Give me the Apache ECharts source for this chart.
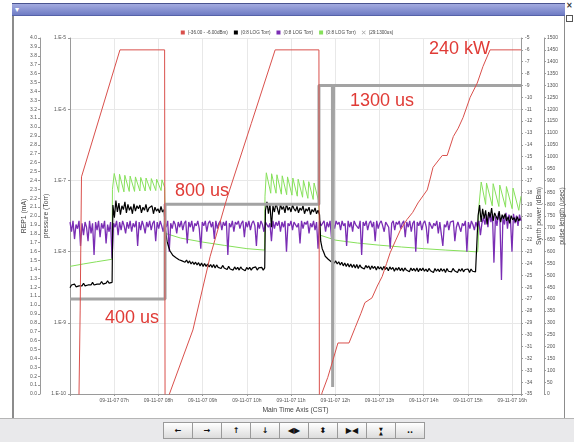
<!DOCTYPE html>
<html>
<head>
<meta charset="utf-8">
<script src="https://cdn.jsdelivr.net/npm/echarts@6/dist/echarts.min.js"></script>
<style>
  html, body { margin: 0; padding: 0; background: #fff; width: 574px; height: 442px; overflow: hidden; }
  #win { position: absolute; left: 12px; top: 4px; width: 553px; height: 414px; box-sizing: border-box;
         border-left: 2px solid #8c8c8c; border-right: 1px solid #8c8c8c; }
  #tbar { position: absolute; left: 12px; top: 3px; width: 553px; height: 11px;
          background: linear-gradient(#a3abe0, #6f7cc4); border-top: 1px solid #4a5490; border-bottom: 1px solid #5562a8;
          color: #fff; font: bold 8px "DejaVu Sans"; line-height: 11px; }
  #tbar span { margin-left: 3px; }
  #xbtn { position: absolute; left: 566px; top: 1px; font: bold 8px "DejaVu Sans"; color: #333; }
  #rbtn { position: absolute; left: 566px; top: 15px; width: 5px; height: 5px; border: 1px solid #555; background: #fff; }
  #chart { position: absolute; left: 0; top: 0; width: 574px; height: 442px; }
  #tools { position: absolute; left: 0; top: 418px; width: 574px; height: 24px; background: #e9e9eb; border-top: 1px solid #b5b5b5; }
  .btns { position: absolute; left: 163px; top: 3px; display: flex; border: 1px solid #9a9a9a; border-right: none; }
  .btns div { width: 28px; height: 15px; border-right: 1px solid #9a9a9a; background: linear-gradient(#ffffff, #dcdcdc);
              font: bold 8px "DejaVu Sans"; color: #111; text-align: center; line-height: 15px; }
  .btns .hg { display: inline-block; font-size: 5px; line-height: 4px; vertical-align: middle; }
</style>
</head>
<body>
<div id="win"></div>
<div id="tbar"><span>&#9662;</span></div>
<div id="xbtn">&#215;</div>
<div id="rbtn"></div>
<div id="chart"></div>
<div id="tools"><div class="btns">
  <div>&#8592;</div><div>&#8594;</div><div>&#8593;</div><div>&#8595;</div><div>&#9664;&#9654;</div>
  <div>&#11021;</div><div>&#9654;&#9664;</div><div><span class="hg">&#9660;<br>&#9650;</span></div><div>..</div>
</div></div>
<script>
// ---- time axis: hours of 09-11-07 ----
const dayLabel = '09-11-07';
const hourLabels = ['07h', '08h', '09h', '10h', '11h', '12h', '13h', '14h', '15h', '16h'];
const sampleStep = 0.034;           // hours between logged samples

// ---- synth power (dBm) ----
const redHours = [6.20, 6.23, 6.26, 7.13, 8.14, 8.15,
  8.17, 8.78, 9.17, 9.55, 10.10, 10.64, 11.63, 11.64,
  11.70, 11.83, 11.95, 12.06, 12.31, 12.45, 12.58, 12.67, 12.83, 12.95, 13.06, 13.16, 13.24, 13.36,
  13.47, 13.62, 13.75, 13.87, 14.08, 14.15, 14.21, 14.42, 14.53, 14.67, 14.78, 14.89, 15.05, 15.21,
  15.34, 15.50, 16.20];
const redDbm = [-36, -28, -16.7, -6, -6, -36,
  -36, -29.6, -23.4, -18.5, -12.2, -6, -6, -36,
  -34.9, -33.6, -32.1, -30.7, -30.7, -29.4, -28.2, -27.3, -26.9, -25.9, -25.1, -24.0, -23.1, -22.1,
  -21.2, -20.3, -19.7, -18.9, -17.8, -16.8, -15.9, -14.9, -14.9, -13.3, -12.6, -11.7, -10.0, -8.8,
  -7.4, -6.0, -6.0];

// ---- pulse length (us) ----
const grayHours = [6.0, 8.15, 8.15, 11.63, 11.63, 11.935, 11.94, 11.955, 11.96, 16.2];
const grayUs = [400, 400, 800, 800, 1300, 1300, 29, 29, 1300, 1300];

// ---- gauge readings, in units of 1e-9 Torr ----
const purpleStart = 6.0;
const purpleNano = [
  26,19,27,15,24,21,27,12,25,17,26,22,14,27,18,25,9,26,20,27,
  16,25,21,27,13,24,19,26,8,25,22,27,17,26,20,27,23,18,26,21,
  27,19,25,22,27,12,26,20,27,23,18,26,22,27,20,25,27,14,26,21,
  27,23,19,26,22,27,10,25,21,27,24,18,26,22,27,20,25,27,13,26,
  22,27,19,25,23,27,21,11,26,23,27,19,25,27,22,26,15,27,21,25,
  27,20,26,23,27,9,25,22,27,19,26,24,27,21,25,27,16,26,22,27,
  20,25,27,23,12,26,21,27,24,19,26,27,22,25,14,27,21,26,23,27,
  19,26,22,27,10,25,23,27,20,26,27,22,25,13,27,21,26,24,27,18,
  25,22,27,20,26,11,27,23,25,27,19,26,22,27,15,25,21,27,24,26,
  20,27,23,25,12,27,22,26,19,27,24,25,21,27,9,26,23,27,20,25,
  27,22,26,14,27,21,25,27,23,19,26,27,22,11,25,27,20,26,24,27,
  21,25,27,16,26,22,27,19,25,27,10,26,23,27,20,25,27,22,13,26,
  27,21,25,23,27,18,26,27,12,24,22,27,20,26,25,27,14,22,26,27,
  19,25,23,27,10,26,21,27,24,20,26,22,27,17,25,30,24,33,22,35,
  26,34,7,31,23,35,27,4,32,24,35,21,33,28,10,34,25,32,23,33,
  27];

const blackStarts = [6.0, 6.97, 8.16, 10.42, 11.67, 15.23];
const blackLow1 = [3.1,3.4,3.2,3.5,3.2,3.4,3.3,3.5,3.3,3.6,3.3,3.5,3.4,3.6,3.4,3.7,3.4,3.6,3.5,3.7,
  3.5,3.8,3.5,3.7,3.6,3.9,3.6,3.8,3.7];
const blackHigh1 = [45,30,52,36,48,33,44,39,50,35,46,38,43,34,47,37,44,40,45,35,
  42,38,46,36,41,39,44,34,42,37,40,35,43,36,39];
const blackDecay1 = [20,14,11.8,10.2,9.8,8.8,9.0,8.2,8.5,7.7,8.1,7.4,7.8,7.1,7.6,6.9,7.4,6.7,7.2,6.6,
  7.1,6.5,7.0,6.3,6.9,6.2,6.8,6.2,6.7,6.1,6.6,6.0,6.6,5.9,6.5,6.0,6.4,5.8,6.4,5.9,
  6.1,5.6,6.2,5.7,6.0,5.5,6.1,5.6,6.0,5.5,6.1,5.7,5.9,5.4,6.0,5.6,6.0,5.5,5.9,5.6,
  6.1,5.5,5.9,5.6,6.0,5.5,5.9];
const blackHigh2 = [38,50,34,47,22,44,36,48,40,33,46,39,43,35,47,38,42,36,45,40,
  37,43,35,41,38,44,34,40,37,42,33,39,36,41,34,38,33];
const blackDecay2 = [14,11,9.8,8.6,8.6,7.8,7.9,7.2,7.6,6.9,7.4,6.7,7.2,6.5,7.1,6.3,6.9,6.2,6.8,6.1,
  6.7,6.0,6.6,5.9,6.6,5.8,6.5,6.0,6.4,5.7,6.4,5.9,6.3,5.6,6.3,5.8,6.2,5.5,6.2,5.7,
  6.1,5.5,6.2,5.6,6.0,5.4,6.1,5.6,6.0,5.3,5.9,5.5,6.0,5.4,5.9,5.3,5.9,5.5,5.8,5.2,
  5.9,5.4,5.8,5.3,5.9,5.2,5.8,5.4,5.9,5.3,5.7,5.2,5.8,5.4,5.7,5.1,5.8,5.3,5.7,5.2,
  5.8,5.3,5.7,5.1,5.8,5.3,5.6,5.2,5.8,5.4,5.7,5.1,5.7,5.3,5.8,5.2,5.6,5.3,5.7,5.1,
  5.7,5.3,5.6,5.2,5.5];
const blackHigh3 = [32,45,26,40,29,38,24,36,30,41,27,35,31,28,37,26,33,29,34,27,
  31,25,32,28,30,26,31,27,29];
const blackSegments = [blackLow1, blackHigh1, blackDecay1, blackHigh2, blackDecay2, blackHigh3];

const greenHours = [6.0, 6.3, 6.6, 6.95,
  6.96, 7.00, 7.10, 7.12, 7.22, 7.24, 7.34, 7.36, 7.46, 7.48, 7.58, 7.60, 7.70, 7.72, 7.82, 7.84, 7.94, 7.96, 8.06, 8.08, 8.14,
  8.16, 8.5, 9.0, 9.5, 10.0, 10.4,
  10.41, 10.44, 10.54, 10.56, 10.66, 10.68, 10.78, 10.80, 10.90, 10.92, 11.02, 11.04, 11.14, 11.16, 11.26, 11.28, 11.38, 11.40, 11.50, 11.52, 11.62,
  11.66, 12.0, 12.5, 13.0, 13.5, 14.0, 14.5, 15.0, 15.22,
  15.23, 15.25, 15.30, 15.40, 15.42, 15.55, 15.57, 15.70, 15.72, 15.85, 15.87, 16.00, 16.02, 16.15, 16.2];
const greenNano = [6.2, 6.7, 7.2, 7.8,
  75, 125, 68, 122, 69, 118, 70, 115, 70, 112, 71, 110, 71, 108, 72, 106, 72, 104, 72, 102, 80,
  18, 15.5, 13.6, 12.2, 11.0, 10.5,
  60, 128, 66, 124, 66, 120, 64, 116, 63, 112, 62, 108, 60, 104, 58, 100, 56, 96, 54, 92, 52,
  17, 14.5, 13.2, 12.3, 11.6, 11.0, 10.5, 10.1, 9.9,
  12, 45, 95, 46, 92, 44, 90, 43, 86, 42, 82, 40, 78, 38, 60];

// ---- build series data ----
const NANO = 1e-9;
const zip = (xs, ys, k) => xs.map((x, i) => [x, ys[i] * (k || 1)]);
const sampled = (start, vals) => vals.map((v, i) => [start + i * sampleStep, v * NANO]);

const purpleData = sampled(purpleStart, purpleNano);
const blackData = [].concat(...blackSegments.map((seg, i) => sampled(blackStarts[i], seg)));
const greenData = zip(greenHours, greenNano, NANO);
const redData = zip(redHours, redDbm);
const grayData = zip(grayHours, grayUs);

const C = { red: '#d9504c', black: '#000000', purple: '#7a2db4', green: '#86e05a', gray: '#a3a3a3' };
const labelColor = '#555';
const axisColor = '#9a9a9a';
const gridColor = '#e8e8e8';
const fontFam = '"Liberation Sans", Arial, sans-serif';

const nameStyle = { fontSize: 6.8, color: '#444', fontFamily: fontFam };
const tickLabel = (extra) => Object.assign({ fontSize: 5, color: labelColor, fontFamily: fontFam }, extra);
const axisBase = (extra) => Object.assign({
  nameLocation: 'middle', nameTextStyle: nameStyle, nameMoveOverlap: false,
  axisLine: { show: true, lineStyle: { color: axisColor } },
  axisTick: { show: true, length: 2, lineStyle: { color: axisColor } },
  splitLine: { show: false }
}, extra);

const chart = echarts.init(document.getElementById('chart'), null, { renderer: 'canvas' });
chart.setOption({
  animation: false,
  backgroundColor: 'transparent',
  grid: { left: 70, right: 53, top: 38, bottom: 48, containLabel: false, outerBoundsMode: 'none' },
  legend: {
    top: 25, left: 'center', itemWidth: 4, itemHeight: 4, itemGap: 6, selectedMode: false,
    textStyle: { fontSize: 4.6, color: '#444', fontFamily: fontFam, padding: [0, 0, 0, -2] },
    formatter: (n) => n.split('|')[1],
    data: [
      { name: 'syn|(-36.00 - -6.00dBm)', icon: 'rect' },
      { name: 'g1|(0:8 LOG Torr)', icon: 'rect' },
      { name: 'g2|(0:8 LOG Torr)', icon: 'rect' },
      { name: 'g3|(0:8 LOG Torr)', icon: 'rect' },
      { name: 'pl|(29:1300us)', icon: 'path://M0,1L1,0L5,4L9,0L10,1L6,5L10,9L9,10L5,6L1,10L0,9L4,5Z' }
    ]
  },
  xAxis: axisBase({
    type: 'value', min: 6, max: 16.2, interval: 1,
    name: 'Main Time Axis (CST)', nameGap: 13,
    axisLabel: tickLabel({ margin: 4, formatter: (v) => {
      const h = Math.round(v), i = h - 7;
      return (Math.abs(v - h) < 1e-6 && i >= 0 && i < hourLabels.length) ? dayLabel + ' ' + hourLabels[i] : '';
    } }),
    splitLine: { show: true, lineStyle: { color: gridColor, width: 1 } }
  }),
  yAxis: [
    axisBase({ // pressure, log scale
      type: 'log', logBase: 10, min: 1e-10, max: 1e-5, position: 'left',
      name: 'pressure (Torr)', nameGap: 20,
      axisLabel: tickLabel({ margin: 4, formatter: (v) => '1.E' + Math.round(Math.log10(v)) }),
      splitLine: { show: true, lineStyle: { color: gridColor } },
      minorTick: { show: false }, minorSplitLine: { show: false }
    }),
    axisBase({ // beam current
      type: 'value', min: 0, max: 4, interval: 0.1, position: 'left', offset: 30,
      name: 'REP1 (mA)', nameGap: 12,
      axisLabel: tickLabel({ margin: 3, formatter: (v) => v.toFixed(1) })
    }),
    axisBase({ // synth power
      type: 'value', min: -35, max: -5, interval: 1, position: 'right', offset: 0,
      name: 'Synth power (dBm)', nameGap: 15,
      axisLabel: tickLabel({ margin: 4, formatter: (v) => String(Math.round(v)) })
    }),
    axisBase({ // pulse length
      type: 'value', min: 0, max: 1500, interval: 50, position: 'right', offset: 23,
      name: 'pulse length (usec)', nameGap: 15,
      axisLabel: tickLabel({ margin: 3, formatter: (v) => String(Math.round(v)) })
    })
  ],
  series: [
    { name: 'g3|(0:8 LOG Torr)', type: 'line', yAxisIndex: 0, data: greenData, symbol: 'none', silent: true,
      color: C.green, lineStyle: { color: C.green, width: 1 }, z: 2 },
    { name: 'g2|(0:8 LOG Torr)', type: 'line', yAxisIndex: 0, data: purpleData, symbol: 'none', silent: true,
      color: C.purple, lineStyle: { color: C.purple, width: 1.3 }, z: 3 },
    { name: 'g1|(0:8 LOG Torr)', type: 'line', yAxisIndex: 0, data: blackData, symbol: 'none', silent: true,
      color: C.black, lineStyle: { color: C.black, width: 1.2 }, z: 4 },
    { name: 'pl|(29:1300us)', type: 'line', yAxisIndex: 3, data: grayData, symbol: 'none', silent: true,
      color: C.gray, lineStyle: { color: C.gray, width: 3 }, z: 5 },
    { name: 'syn|(-36.00 - -6.00dBm)', type: 'line', yAxisIndex: 2, data: redData, symbol: 'none', silent: true,
      color: C.red, lineStyle: { color: C.red, width: 1 }, z: 6 }
  ],
  graphic: [
    { type: 'text', left: 429, top: 40, z: 100, style: { text: '240 kW', fill: '#e03b36', font: '18px ' + fontFam } },
    { type: 'text', left: 350, top: 92, z: 100, style: { text: '1300 us', fill: '#e03b36', font: '18px ' + fontFam } },
    { type: 'text', left: 175, top: 182, z: 100, style: { text: '800 us', fill: '#e03b36', font: '18px ' + fontFam } },
    { type: 'text', left: 105, top: 309, z: 100, style: { text: '400 us', fill: '#e03b36', font: '18px ' + fontFam } }
  ]
});
</script>
</body>
</html>
